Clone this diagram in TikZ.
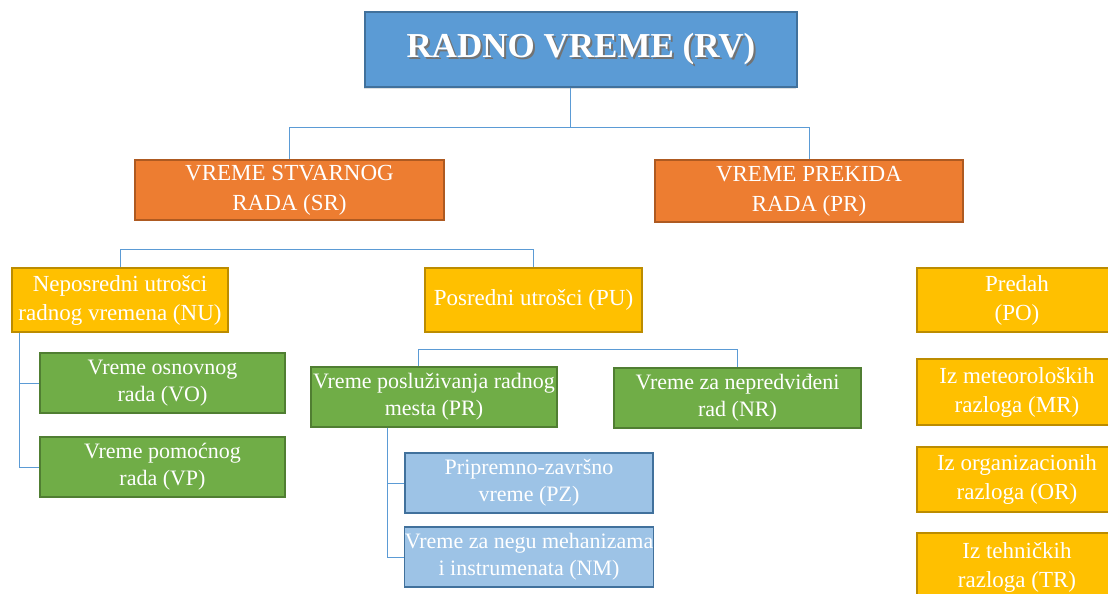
\documentclass[tikz,border=0pt]{standalone}
\usepackage{fontspec}
\setmainfont{Liberation Serif}
\usetikzlibrary{shadows}
\definecolor{rvfill}{HTML}{5B9BD5}
\definecolor{rvline}{HTML}{41719C}
\definecolor{orfill}{HTML}{ED7D31}
\definecolor{orline}{HTML}{AE5A21}
\definecolor{gofill}{HTML}{FFC000}
\definecolor{goline}{HTML}{BC8C00}
\definecolor{grfill}{HTML}{70AD47}
\definecolor{grline}{HTML}{507E32}
\definecolor{lbfill}{HTML}{9DC3E6}
\begin{document}
\begin{tikzpicture}[x=1pt,y=-1pt,
        box/.style={draw,line width=1.4pt,text=white,align=center,inner sep=0pt,
            font=\fontsize{22}{27}\selectfont},
        titlebox/.style={box,fill=rvfill,draw=rvline,
            drop shadow={shadow xshift=-1pt,shadow yshift=-2pt,opacity=.25},
            font=\fontsize{35}{40}\selectfont\bfseries},
        orangebox/.style={box,fill=orfill,draw=orline,font=\fontsize{23}{30}\selectfont},
        goldbox/.style={box,fill=gofill,draw=goline,font=\fontsize{23}{29}\selectfont},
        greenbox/.style={box,fill=grfill,draw=grline},
        paleblue/.style={box,fill=lbfill,draw=rvline},
        conn/.style={draw=rvfill,line width=1pt}]
    \useasboundingbox (0,0) rectangle (1108,594);
    \clip (0,0) rectangle (1108,594);

    \node[titlebox,minimum width=432,minimum height=75] (rv) at (581,49.5) {};
    \node[text=black!55,font=\fontsize{35}{40}\selectfont\bfseries] (rvshadow) at (583,51) {RADNO VREME (RV)};
    \node[text=white,font=\fontsize{35}{40}\selectfont\bfseries] (rvtext) at (581,49.5) {RADNO VREME (RV)};

    \node[orangebox,minimum width=309,minimum height=60] (sr) at (289.5,190) {VREME STVARNOG\\RADA (SR)};
    \node[orangebox,minimum width=308,minimum height=62] (pr) at (809,191) {VREME PREKIDA\\RADA (PR)};

    \node[goldbox,minimum width=216,minimum height=64] (nu) at (120,300) {Neposredni utrošci\\radnog vremena (NU)};
    \node[goldbox,minimum width=217,minimum height=64] (pu) at (533.5,300) {Posredni utrošci (PU)};

    \node[greenbox,minimum width=245,minimum height=60] (vo) at (162.5,383) {Vreme osnovnog\\rada (VO)};
    \node[greenbox,minimum width=245,minimum height=60] (vp) at (162.5,467) {Vreme pomoćnog\\rada (VP)};
    \node[greenbox,minimum width=246,minimum height=60] (pm) at (434,397) {Vreme posluživanja radnog\\mesta (PR)};
    \node[greenbox,minimum width=247,minimum height=60] (nr) at (737.5,398) {Vreme za nepredviđeni\\rad (NR)};

    \node[paleblue,minimum width=248,minimum height=60] (pz) at (529,483) {Pripremno-završno\\vreme (PZ)};
    \node[paleblue,minimum width=248,minimum height=60] (nm) at (529,557) {Vreme za negu mehanizama\\i instrumenata (NM)};

    \node[goldbox,minimum width=200,minimum height=64] (po) at (1017,300) {Predah\\(PO)};
    \node[goldbox,minimum width=200,minimum height=66] (mr) at (1017,392) {Iz meteoroloških\\razloga (MR)};
    \node[goldbox,minimum width=200,minimum height=65] (ozr) at (1017,479.5) {Iz organizacionih\\razloga (OR)};
    \node[goldbox,minimum width=200,minimum height=68] (tr) at (1017,567) {Iz tehničkih\\razloga (TR)};

    \draw[conn] ([xshift=-11pt]rv.south) -- ++(0,40) -| (sr.north);
    \draw[conn] ([xshift=-11pt]rv.south) -- ++(0,40) -| (pr.north);
    \draw[conn] (nu.north) -- ++(0,-18) -| (pu.north);
    \draw[conn] ([xshift=8pt]nu.south west) |- (vo.west);
    \draw[conn] ([xshift=8pt]nu.south west) |- (vp.west);
    \draw[conn] ([xshift=-16pt]pm.north) -- ++(0,-17) -| (nr.north);
    \draw[conn] ([xshift=77pt]pm.south west) |- (pz.west);
    \draw[conn] ([xshift=77pt]pm.south west) |- (nm.west);
\end{tikzpicture}
\end{document}
